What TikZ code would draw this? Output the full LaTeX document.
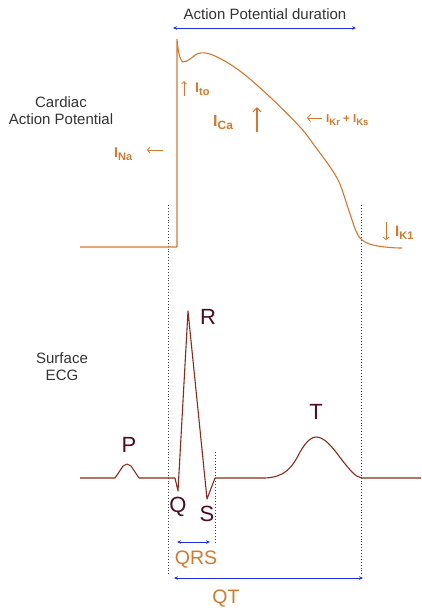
\documentclass[tikz,border=0pt]{standalone}
\usepackage{fontspec}
\setmainfont{Liberation Sans}
\usetikzlibrary{arrows.meta}
\definecolor{apor}{HTML}{D5782C}
\definecolor{ecgm}{HTML}{8B2A1A}
\definecolor{lblm}{HTML}{4E0C20}
\definecolor{txtg}{HTML}{333333}
\definecolor{durb}{HTML}{2030E0}
\newcommand\lsub[2]{\raisebox{-3.5pt}{\fontsize{#1}{#1}\selectfont #2}}
\begin{document}
\begin{tikzpicture}[x=1pt,y=-1pt,
  aptrace/.style={apor, line width=1.1pt, line join=round},
  ecgtrace/.style={ecgm, line width=1.1pt, line join=round},
  guide/.style={black!75, line width=0.9pt, dotted},
  dur/.style={durb, line width=0.8pt, {Stealth[length=4pt,width=3.5pt]}-{Stealth[length=4pt,width=3.5pt]}},
  curar/.style={apor, line width=0.8pt, -{Straight Barb[length=2.5pt,width=5pt]}},
  cur/.style={apor, font=\bfseries\fontsize{14}{14}\selectfont, inner sep=0pt, anchor=base west},
  wave/.style={lblm, font=\fontsize{22}{22}\selectfont, inner sep=0pt},
  side/.style={txtg, font=\fontsize{15}{17}\selectfont, align=center, inner sep=0pt},
  durlab/.style={apor, font=\fontsize{19.5}{19.5}\selectfont, inner sep=0pt}]
\useasboundingbox (0,0) rectangle (421,611);
% titles
\node[side] (apd) at (265,14) {Action Potential duration};
\coordinate (apdL) at (173,28);
\coordinate (apdR) at (356,28);
\draw[dur] (apdL) -- (apdR);
\node[side] (cap) at (61,111) {Cardiac\\Action Potential};
\node[side] (secg) at (62,367) {Surface\\ECG};
% guides
\coordinate (g1t) at (168,205); \coordinate (g1b) at (168,574);
\coordinate (g2t) at (361,205); \coordinate (g2b) at (361,574);
\coordinate (g3t) at (215,452); \coordinate (g3b) at (215,542);
\draw[guide] (g1t) -- (g1b);
\draw[guide] (g2t) -- (g2b);
\draw[guide] (g3t) -- (g3b);
% action potential
\draw[aptrace] (80,247) -- (177,247) -- (177,39)
  plot[smooth, tension=0.6] coordinates {(177,39) (179,54) (183,62) (190,59) (200,53) (215,56) (240,71) (270,97) (300,127) (314,145) (337,178) (348,208) (356,231) (362,240) (373,245) (390,247.5) (402,248)};
% currents
\coordinate (itoA) at (184,96); \coordinate (itoB) at (184,81);
\draw[curar] (itoA) -- (itoB);
\node[cur] (ito) at (195,92) {I\lsub{11}{to}};
\coordinate (icaA) at (257,132); \coordinate (icaB) at (257,107);
\draw[curar, line width=1.2pt, -{Straight Barb[length=4pt,width=8pt]}] (icaA) -- (icaB);
\node[cur, font=\bfseries\fontsize{16}{16}\selectfont] (ica) at (213,126) {I\lsub{12}{Ca}};
\coordinate (ikrA) at (322,118); \coordinate (ikrB) at (307,118);
\draw[curar, -{Straight Barb[length=3pt,width=7pt]}] (ikrA) -- (ikrB);
\node[cur, font=\bfseries\fontsize{11.5}{11.5}\selectfont] (ikr) at (326,122) {I\lsub{9.5}{Kr} + I\lsub{9.5}{Ks}};
\coordinate (inaA) at (163,150); \coordinate (inaB) at (147,150);
\draw[curar, -{Straight Barb[length=2.5pt,width=6pt]}] (inaA) -- (inaB);
\node[cur] (ina) at (114,157) {I\lsub{11}{Na}};
\coordinate (ik1A) at (386,222); \coordinate (ik1B) at (386,240);
\draw[curar, -{Straight Barb[length=2.5pt,width=6pt]}] (ik1A) -- (ik1B);
\node[cur, font=\bfseries\fontsize{15}{15}\selectfont] (ik1) at (395,236) {I\lsub{11}{K1}};
% ECG
\draw[ecgtrace] (80,478) -- (115,478) -- (123,466) -- (127,464) -- (131,466) -- (139,478)
  -- (175,478) -- (178,491) -- (188,311) -- (207,499) -- (215,478) -- (265,478)
  .. controls (285,477) and (292,468) .. (300,452)
  .. controls (307,440) and (312,437) .. (316,437)
  .. controls (325,437) and (333,448) .. (342,460)
  .. controls (350,470) and (355,477) .. (362,478)
  -- (421,478);
\node[wave] (P) at (129,445) {P};
\node[wave] (R) at (208,317) {R};
\node[wave] (Q) at (178,507) {Q};
\node[wave] (S) at (207,514) {S};
\node[wave] (T) at (316,412) {T};
% intervals
\coordinate (qrsL) at (177,542); \coordinate (qrsR) at (210,542);
\draw[dur] (qrsL) -- (qrsR);
\node[durlab] (qrs) at (196,560) {QRS};
\coordinate (qtL) at (174,578); \coordinate (qtR) at (363,578);
\draw[dur] (qtL) -- (qtR);
\node[durlab] (qt) at (226,599) {QT};
\end{tikzpicture}
\end{document}
